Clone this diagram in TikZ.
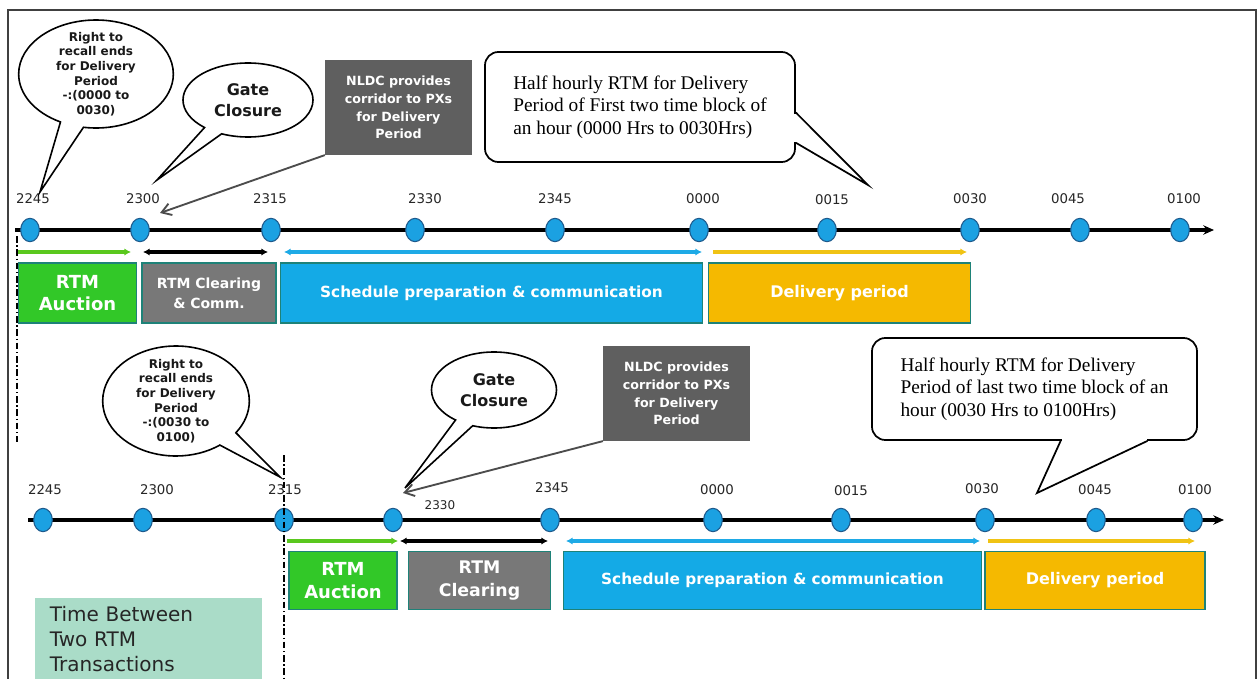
\documentclass[tikz,border=0pt]{standalone}
\usepackage{fontspec}
\setmainfont{DejaVu Sans}
\newfontfamily\lserif{Liberation Serif}
\usetikzlibrary{shapes.geometric,shapes.callouts,arrows.meta,calc}
\definecolor{dotblue}{RGB}{27,161,226}
\definecolor{dotedge}{RGB}{30,90,140}
\definecolor{boxgreen}{RGB}{50,200,40}
\definecolor{boxgray}{RGB}{120,120,120}
\definecolor{boxblue}{RGB}{20,170,230}
\definecolor{boxyellow}{RGB}{245,185,0}
\definecolor{boxedge}{RGB}{30,130,120}
\definecolor{nldcgray}{RGB}{95,95,95}
\definecolor{mint}{RGB}{170,220,200}
\definecolor{arrgreen}{RGB}{90,200,30}
\definecolor{arrblue}{RGB}{30,170,230}
\definecolor{arryellow}{RGB}{240,195,20}
\begin{document}
\begin{tikzpicture}[x=0.75pt,y=-0.75pt,
 dot/.style={ellipse, draw=dotedge, fill=dotblue, line width=0.8pt, minimum width=14pt, minimum height=17.5pt, inner sep=0pt},
 tlab/.style={font=\fontsize{10}{12}\selectfont, text=black!85, inner sep=0pt},
 axis/.style={line width=2.8pt, -{Stealth[length=8pt,width=7pt]}},
 span/.style={line width=2.5pt},
 tipR/.style={-{Latex[length=5pt,width=5.5pt]}},
 tipLR/.style={{Latex[length=5pt,width=5.5pt]}-{Latex[length=5pt,width=5.5pt]}},
 phase/.style={draw=boxedge, line width=0.8pt, text=white, align=center, inner sep=0pt},
 bubble/.style={ellipse callout, draw=black, line width=1.2pt, fill=white, inner sep=0pt, callout pointer arc=18},
 bubtext/.style={font=\bfseries\fontsize{9}{11}\selectfont, align=center, text=black!90},
 gatetext/.style={font=\bfseries\fontsize{12}{16}\selectfont, align=center, text=black!90},
 nldc/.style={fill=nldcgray, text=white, font=\bfseries\fontsize{9.5}{13.3}\selectfont, align=center, minimum width=110pt, minimum height=71pt, inner sep=0pt},
 note/.style={draw=black, line width=1.3pt, rounded corners=10pt, fill=white, font=\lserif\fontsize{14.5}{17}\selectfont, align=left, inner sep=0pt},
 ptr/.style={draw=black!70, line width=1.4pt, -{Straight Barb[length=7pt,width=9pt]}},
 vdash/.style={dash pattern=on 5pt off 2pt on 1pt off 2pt, line width=1pt}
]
\useasboundingbox (0,0) rectangle (1258,679);
\draw[line width=1.5pt, black!75] (8,679) -- (8,10) -- (1256,10) -- (1256,679);

% ---------- top timeline ----------
\coordinate (ta) at (15,230);
\coordinate (tb) at (1214,230);
\draw[axis] (ta) -- (tb);
\foreach \n/\x in {1/30,2/140,3/271,4/415,5/555,6/699,7/827,8/970,9/1080,10/1180}
  \node[dot] (t\n) at (\x,230) {};
\node[tlab] (tl1) at (33,199) {2245};
\node[tlab] (tl2) at (143,199) {2300};
\node[tlab] (tl3) at (270,199) {2315};
\node[tlab] (tl4) at (425,199) {2330};
\node[tlab] (tl5) at (555,199) {2345};
\node[tlab] (tl6) at (703,199) {0000};
\node[tlab] (tl7) at (832,200) {0015};
\node[tlab] (tl8) at (970,199) {0030};
\node[tlab] (tl9) at (1068,199) {0045};
\node[tlab] (tl10) at (1184,199) {0100};

\coordinate (sg1) at (18,252); \coordinate (sg2) at (131,252);
\coordinate (sk1) at (143,252); \coordinate (sk2) at (268,252);
\coordinate (sb1) at (284,252); \coordinate (sb2) at (702,252);
\coordinate (sy1) at (713,252); \coordinate (sy2) at (967,252);
\draw[span, arrgreen, tipR] (sg1) -- (sg2);
\draw[span, black, tipLR] (sk1) -- (sk2);
\draw[span, arrblue, tipLR] (sb1) -- (sb2);
\draw[span, arryellow, tipR] (sy1) -- (sy2);

\node[phase, fill=boxgreen, minimum width=89pt, minimum height=45pt, font=\bfseries\fontsize{13.5}{17}\selectfont] (p1) at (77.5,293) {RTM\\Auction};
\node[phase, fill=boxgray, minimum width=100.5pt, minimum height=45pt, font=\bfseries\fontsize{10.5}{15}\selectfont] (p2) at (209,293) {RTM Clearing\\\& Comm.};
\node[phase, fill=boxblue, minimum width=317pt, minimum height=45pt, font=\bfseries\fontsize{11.5}{14}\selectfont] (p3) at (491.5,293) {Schedule preparation \& communication};
\node[phase, fill=boxyellow, minimum width=197pt, minimum height=45pt, font=\bfseries\fontsize{12}{14}\selectfont] (p4) at (839.5,293) {Delivery period};

\coordinate (d1a) at (17,236); \coordinate (d1b) at (17,442);
\draw[vdash] (d1a) -- (d1b);

% callouts top
\coordinate (c1tip) at (40,192);
\node[bubble, minimum width=116pt, minimum height=81pt, callout absolute pointer={(c1tip)}] (c1) at (96,74) {};
\node[bubtext] (c1t) at (c1) {Right to\\recall ends\\for Delivery\\Period\\-:(0000 to\\0030)};

\coordinate (g1tip) at (157,180);
\node[bubble, minimum width=97.5pt, minimum height=55.5pt, callout absolute pointer={(g1tip)}] (g1) at (248,100) {};
\node[gatetext] (g1t) at (g1) {Gate\\Closure};

\node[nldc] (n1) at (398.5,107.5) {NLDC provides\\corridor to PXs\\for Delivery\\Period};
\coordinate (n1tip) at (160,213);
\draw[ptr] (n1.south west) -- (n1tip);

\node[note, minimum width=232.5pt, minimum height=82.5pt] (h1) at (640,107) {Half hourly RTM for Delivery\\Period of First two time block of\\an hour (0000 Hrs to 0030Hrs)};
\coordinate (h1a) at ($(h1.north east)!0.55!(h1.south east)$);
\coordinate (h1b) at ($(h1.north east)!0.82!(h1.south east)$);
\coordinate (h1tip) at (868,185);
\fill[white] ($(h1a)+(-3,1)$) rectangle ($(h1b)+(3,-1)$);
\draw[line width=1.3pt] (h1a) -- (h1tip) -- (h1b);

% ---------- bottom timeline ----------
\coordinate (ba) at (28,520);
\coordinate (bb) at (1224,520);
\draw[axis] (ba) -- (bb);
\foreach \n/\x in {1/43,2/143,3/284,4/393,5/550,6/713,7/841,8/985,9/1096,10/1193}
  \node[dot] (b\n) at (\x,520) {};
\node[tlab] (bl1) at (45,490) {2245};
\node[tlab] (bl2) at (157,490) {2300};
\node[tlab] (bl3) at (285,490) {2315};
\node[tlab, font=\fontsize{9}{11}\selectfont] (bl4) at (440,505) {2330};
\node[tlab] (bl5) at (552,488) {2345};
\node[tlab] (bl6) at (717,490) {0000};
\node[tlab] (bl7) at (851,491) {0015};
\node[tlab] (bl8) at (982,489) {0030};
\node[tlab] (bl9) at (1095,490) {0045};
\node[tlab] (bl10) at (1195,490) {0100};

\coordinate (d2a) at (284,455); \coordinate (d2b) at (284,679);
\draw[vdash] (d2a) -- (d2b);

\coordinate (xg1) at (287,541); \coordinate (xg2) at (398,541);
\coordinate (xk1) at (400,541); \coordinate (xk2) at (548,541);
\coordinate (xb1) at (566,541); \coordinate (xb2) at (980,541);
\coordinate (xy1) at (988,541); \coordinate (xy2) at (1195,541);
\draw[span, arrgreen, tipR] (xg1) -- (xg2);
\draw[span, black, tipLR] (xk1) -- (xk2);
\draw[span, arrblue, tipLR] (xb1) -- (xb2);
\draw[span, arryellow, tipR] (xy1) -- (xy2);

\node[phase, fill=boxgreen, minimum width=81pt, minimum height=44pt, font=\bfseries\fontsize{13.5}{17}\selectfont] (q1) at (343,580.5) {RTM\\Auction};
\node[phase, fill=boxgray, minimum width=107pt, minimum height=44pt, font=\bfseries\fontsize{13}{17}\selectfont] (q2) at (479.5,580.5) {RTM\\Clearing};
\node[phase, fill=boxblue, minimum width=314pt, minimum height=44pt, font=\bfseries\fontsize{11.5}{14}\selectfont] (q3) at (772.5,580.5) {Schedule preparation \& communication};
\node[phase, fill=boxyellow, minimum width=165pt, minimum height=44pt, font=\bfseries\fontsize{12}{14}\selectfont] (q4) at (1095,580.5) {Delivery period};

\coordinate (c2tip) at (280,477);
\node[bubble, minimum width=110pt, minimum height=82.5pt, callout absolute pointer={(c2tip)}] (c2) at (176,401) {};
\node[bubtext] (c2t) at (c2) {Right to\\recall ends\\for Delivery\\Period\\-:(0030 to\\0100)};

\coordinate (g2tip) at (405,488);
\node[bubble, minimum width=93.75pt, minimum height=57pt, callout absolute pointer={(g2tip)}] (g2) at (494,390) {};
\node[gatetext] (g2t) at (g2) {Gate\\Closure};

\node[nldc] (n2) at (676.5,393.5) {NLDC provides\\corridor to PXs\\for Delivery\\Period};
\coordinate (n2tip) at (403,493);
\draw[ptr] (n2.south west) -- (n2tip);

\node[note, minimum width=243.75pt, minimum height=76.5pt] (h2) at (1034.5,389) {Half hourly RTM for Delivery\\Period of last two time block of an\\hour (0030 Hrs to 0100Hrs)};
\coordinate (h2a) at ($(h2.south west)!0.58!(h2.south east)$);
\coordinate (h2b) at ($(h2.south west)!0.846!(h2.south east)$);
\coordinate (h2tip) at (1037,493);
\fill[white] ($(h2a)+(1,-3)$) rectangle ($(h2b)+(-1,3)$);
\draw[line width=1.3pt] (h2a) -- (h2tip) -- (h2b);

\node[fill=mint, anchor=north west, minimum width=170pt, minimum height=61pt, inner xsep=11pt, inner ysep=0pt, text width=148pt, align=left, font=\fontsize{15}{18.75}\selectfont, text=black!85] (tbx) at (35,598) {Time Between\\Two RTM\\Transactions};
\end{tikzpicture}
\end{document}
